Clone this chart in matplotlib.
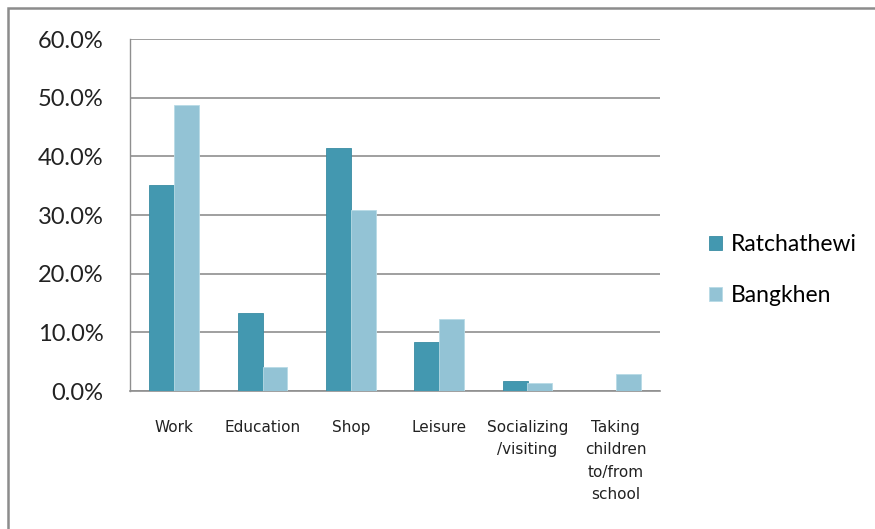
import matplotlib
matplotlib.use("Agg")
import matplotlib.pyplot as plt
import numpy as np
from matplotlib.patches import Rectangle

categories = ["Work", "Education", "Shop", "Leisure", "Socializing\n/visiting", "Taking\nchildren\nto/from\nschool"]
ratchathewi = [35.1, 13.3, 41.4, 8.3, 1.7, 0.0]
bangkhen = [48.7, 4.1, 30.8, 12.3, 1.4, 2.9]
yticks = [0, 10, 20, 30, 40, 50, 60]
series_names = ["Ratchathewi", "Bangkhen"]

plt.rcParams['font.family'] = ['Lato', 'DejaVu Sans']

fig = plt.figure(figsize=(8.75, 5.29), dpi=100)
fig.patches.append(Rectangle((8/875, -0.1), 1.2, 1 - 8/529 + 0.1, transform=fig.transFigure,
                             fill=False, edgecolor='#8c8c8c', linewidth=1.8))
ax = fig.add_axes([130/875, 1 - 391/529, 530/875, 352/529])

x = np.arange(len(categories))
w = 0.28
c1, c2 = '#4398B0', '#93C3D5'
ax.bar(x - w/2, ratchathewi, w, color=c1, edgecolor='#3a8ca3', linewidth=0.6, label=series_names[0], zorder=3)
ax.bar(x + w/2, bangkhen, w, color=c2, edgecolor='#b8dbe6', linewidth=0.6, label=series_names[1], zorder=3)

ax.set_xlim(-0.5, len(categories) - 0.5)
ax.set_ylim(0, 60)
ax.set_yticks(yticks)
ax.set_yticklabels([f"{v:.1f}%" for v in yticks], fontsize=17, color='#222222')
ax.set_xticks(x)
ax.set_xticklabels(categories, fontsize=11, color='#222222', linespacing=1.6, va='top',
                   family=['DejaVu Sans'])
ax.tick_params(axis='x', length=0, pad=21)
ax.tick_params(axis='y', length=0, pad=19)
ax.grid(axis='y', color='#8f8f8f', linewidth=1.2, zorder=0)
for s in ['top', 'right']:
    ax.spines[s].set_visible(False)
ax.spines['left'].set_color('#8f8f8f')
ax.spines['bottom'].set_color('#8f8f8f')
ax.spines['left'].set_linewidth(1.0)
ax.spines['bottom'].set_linewidth(1.2)

leg = fig.legend(loc='center left', bbox_to_anchor=(688/875, 1 - 270/529), frameon=False,
                 fontsize=16.5, handlelength=0.6, handleheight=0.6, handletextpad=0.35, labelspacing=1.3)

fig.savefig("out.png", dpi=100)
